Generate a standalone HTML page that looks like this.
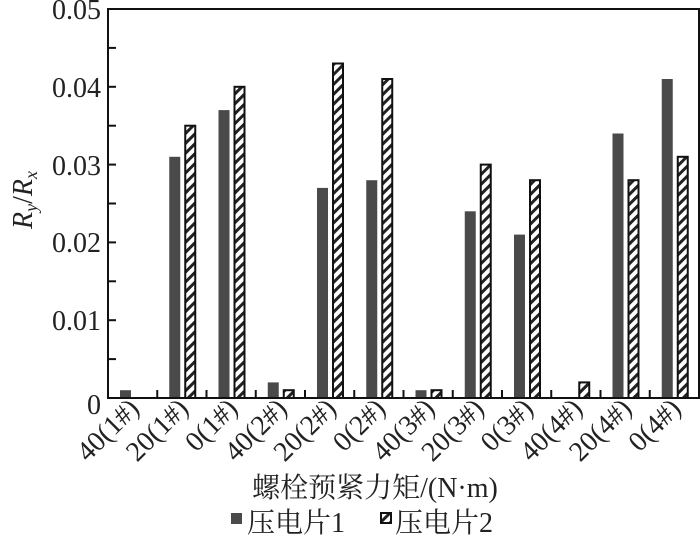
<!DOCTYPE html>
<html><head><meta charset="utf-8"><style>body{margin:0;background:#fff}svg{display:block}</style></head>
<body>
<svg width="700" height="542" xmlns="http://www.w3.org/2000/svg" font-family="Liberation Serif, Noto Serif CJK SC, serif">
<defs>
<pattern id="h" patternUnits="userSpaceOnUse" width="7" height="7" patternTransform="rotate(45)">
<rect width="7" height="7" fill="#fff"/><rect width="3" height="7" fill="#222"/>
</pattern>
</defs>
<g fill="#4a4a4a">
<rect x="120" y="390.2" width="11" height="7.8"/>
<rect x="169.25" y="156.8" width="11" height="241.2"/>
<rect x="218.5" y="110.1" width="11" height="287.9"/>
<rect x="267.75" y="382.4" width="11" height="15.6"/>
<rect x="317" y="187.9" width="11" height="210.1"/>
<rect x="366.25" y="180.2" width="11" height="217.8"/>
<rect x="415.5" y="390.2" width="11" height="7.8"/>
<rect x="464.75" y="211.3" width="11" height="186.7"/>
<rect x="514" y="234.6" width="11" height="163.4"/>
<rect x="612.5" y="133.5" width="11" height="264.5"/>
<rect x="661.75" y="79" width="11" height="319"/>
</g>
<g fill="url(#h)" stroke="#111" stroke-width="2">
<rect x="185.25" y="125.7" width="10" height="272.3"/>
<rect x="234.5" y="86.8" width="10" height="311.2"/>
<rect x="283.75" y="390.2" width="10" height="7.8"/>
<rect x="333" y="63.5" width="10" height="334.5"/>
<rect x="382.25" y="79" width="10" height="319"/>
<rect x="431.5" y="390.2" width="10" height="7.8"/>
<rect x="480.75" y="164.6" width="10" height="233.4"/>
<rect x="530" y="180.2" width="10" height="217.8"/>
<rect x="579.25" y="382.4" width="10" height="15.6"/>
<rect x="628.5" y="180.2" width="10" height="217.8"/>
<rect x="677.75" y="156.8" width="10" height="241.2"/>
</g>
<g stroke="#111" stroke-width="2">
<line x1="157.25" y1="398" x2="157.25" y2="390"/>
<line x1="206.5" y1="398" x2="206.5" y2="390"/>
<line x1="255.75" y1="398" x2="255.75" y2="390"/>
<line x1="305" y1="398" x2="305" y2="390"/>
<line x1="354.25" y1="398" x2="354.25" y2="390"/>
<line x1="403.5" y1="398" x2="403.5" y2="390"/>
<line x1="452.75" y1="398" x2="452.75" y2="390"/>
<line x1="502" y1="398" x2="502" y2="390"/>
<line x1="551.25" y1="398" x2="551.25" y2="390"/>
<line x1="600.5" y1="398" x2="600.5" y2="390"/>
<line x1="649.75" y1="398" x2="649.75" y2="390"/>
<line x1="108" y1="359.1" x2="116" y2="359.1"/>
<line x1="108" y1="320.2" x2="116" y2="320.2"/>
<line x1="108" y1="281.3" x2="116" y2="281.3"/>
<line x1="108" y1="242.4" x2="116" y2="242.4"/>
<line x1="108" y1="203.5" x2="116" y2="203.5"/>
<line x1="108" y1="164.6" x2="116" y2="164.6"/>
<line x1="108" y1="125.7" x2="116" y2="125.7"/>
<line x1="108" y1="86.8" x2="116" y2="86.8"/>
<line x1="108" y1="47.9" x2="116" y2="47.9"/>
</g>
<rect x="108" y="9" width="591" height="389" fill="none" stroke="#111" stroke-width="2"/>
<g font-size="28" fill="#222" text-anchor="end">
<text x="101" y="19">0.05</text>
<text x="101" y="97">0.04</text>
<text x="101" y="175">0.03</text>
<text x="101" y="252">0.02</text>
<text x="101" y="330">0.01</text>
<text x="101" y="414">0</text>
</g>
<g font-size="28" fill="#222" text-anchor="end">
<text transform="translate(140.6,410) rotate(-45)">40(1#)</text>
<text transform="translate(189.9,410) rotate(-45)">20(1#)</text>
<text transform="translate(239.1,410) rotate(-45)">0(1#)</text>
<text transform="translate(288.4,410) rotate(-45)">40(2#)</text>
<text transform="translate(337.6,410) rotate(-45)">20(2#)</text>
<text transform="translate(386.9,410) rotate(-45)">0(2#)</text>
<text transform="translate(436.1,410) rotate(-45)">40(3#)</text>
<text transform="translate(485.4,410) rotate(-45)">20(3#)</text>
<text transform="translate(534.6,410) rotate(-45)">0(3#)</text>
<text transform="translate(583.9,410) rotate(-45)">40(4#)</text>
<text transform="translate(633.1,410) rotate(-45)">20(4#)</text>
<text transform="translate(682.4,410) rotate(-45)">0(4#)</text>
</g>
<text transform="translate(32,200) rotate(-90)" font-size="28" font-style="italic" text-anchor="middle" fill="#222">R<tspan font-size="18" dy="5">y</tspan><tspan dy="-5" font-style="normal">/</tspan>R<tspan font-size="18" dy="5">x</tspan></text>
<text x="375" y="497" font-size="28" text-anchor="middle" fill="#222">螺栓预紧力矩/(N·m)</text>
<rect x="231" y="513" width="11" height="11" fill="#4a4a4a"/>
<text x="247" y="532" font-size="28" fill="#222">压电片1</text>
<rect x="381" y="513" width="10" height="10" fill="url(#h)" stroke="#111" stroke-width="2"/>
<text x="395" y="532" font-size="28" fill="#222">压电片2</text>
</svg>
</body></html>
